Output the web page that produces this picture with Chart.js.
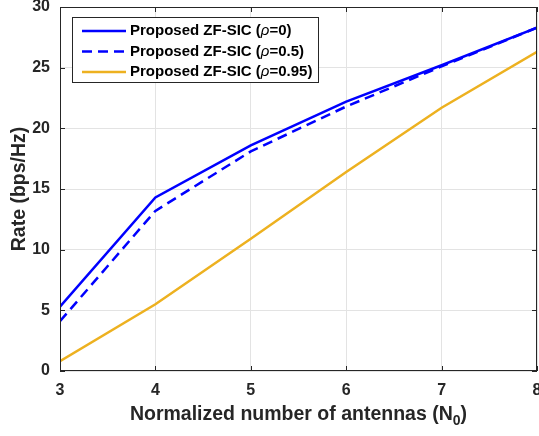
<!DOCTYPE html>
<html>
<head>
<meta charset="utf-8">
<script src="https://cdn.jsdelivr.net/npm/chart.js@4.4.0/dist/chart.umd.min.js"></script>
<style>
  body { margin: 0; background: #fff; }
  #wrap { width: 539px; height: 436px; }
</style>
</head>
<body>
<div id="wrap"><canvas id="rateChart"></canvas></div>
<script>
// values
const antennas = [3, 4, 5, 6, 7, 8];
const rateRho0 = [5.3, 14.3, 18.6, 22.2, 25.2, 28.3];
const rateRho05 = [4.1, 13.2, 18.1, 21.8, 25.1, 28.3];
const rateRho095 = [0.8, 5.5, 10.9, 16.4, 21.7, 26.3];
const rhoLabels = ["0", "0.5", "0.95"];
const xTicks = [3, 4, 5, 6, 7, 8];
const yTicks = [0, 5, 10, 15, 20, 25, 30];

const BLUE = "#0000ff";
const ORANGE = "#edb120";
const AXIS = "#262626";
const FONT = "'Liberation Sans', Arial, sans-serif";

function pts(values) {
  return antennas.map((x, i) => ({ x: x, y: values[i] }));
}

// no extra room for the outer tick labels, the plot box goes to the edge
function noOverhang(s) {
  s.paddingLeft = 0;
  s.paddingRight = 0;
  s.paddingTop = 0;
  s.paddingBottom = 0;
}

// box around the axes + inward ticks on all four sides (matlab style)
const framePlugin = {
  id: "frame",
  afterDraw(chart) {
    const { ctx, chartArea: a, scales } = chart;
    ctx.save();
    ctx.strokeStyle = AXIS;
    ctx.lineWidth = 1;
    ctx.strokeRect(a.left + 0.5, a.top + 0.5, a.right - a.left - 1, a.bottom - a.top - 1);
    ctx.beginPath();
    xTicks.forEach((t) => {
      const px = Math.round(scales.x.getPixelForValue(t)) + 0.5;
      ctx.moveTo(px, a.bottom); ctx.lineTo(px, a.bottom - 5);
      ctx.moveTo(px, a.top); ctx.lineTo(px, a.top + 5);
    });
    yTicks.forEach((t) => {
      const py = Math.round(scales.y.getPixelForValue(t)) + 0.5;
      ctx.moveTo(a.left, py); ctx.lineTo(a.left + 5, py);
      ctx.moveTo(a.right, py); ctx.lineTo(a.right - 5, py);
    });
    ctx.stroke();

    // x title with subscript
    ctx.fillStyle = AXIS;
    ctx.textBaseline = "alphabetic";
    const main = "Normalized number of antennas (N";
    const big = "bold 19.5px " + FONT;
    const small = "bold 14px " + FONT;
    ctx.font = big;
    const w1 = ctx.measureText(main).width;
    const w3 = ctx.measureText(")").width;
    ctx.font = small;
    const w2 = ctx.measureText("0").width;
    let x0 = (a.left + a.right) / 2 - (w1 + w2 + w3) / 2;
    const yb = 420;
    ctx.font = big;
    ctx.fillText(main, x0, yb);
    ctx.font = small;
    ctx.fillText("0", x0 + w1, yb + 5);
    ctx.font = big;
    ctx.fillText(")", x0 + w1 + w2, yb);
    ctx.restore();
  }
};

// legend box in the upper left corner
const legendPlugin = {
  id: "boxLegend",
  afterDatasetsDraw(chart) {
    const { ctx } = chart;
    const bx = 72, by = 17, bw = 246, bh = 65;
    ctx.save();
    ctx.fillStyle = "#fff";
    ctx.fillRect(bx, by, bw, bh);
    ctx.strokeStyle = AXIS;
    ctx.lineWidth = 1;
    ctx.strokeRect(bx + 0.5, by + 0.5, bw, bh);
    chart.data.datasets.forEach((ds, i) => {
      const cy = 31 + i * 20.5;
      ctx.strokeStyle = ds.borderColor;
      ctx.lineWidth = ds.borderWidth;
      ctx.setLineDash(ds.borderDash || []);
      ctx.beginPath();
      ctx.moveTo(82, cy); ctx.lineTo(126, cy);
      ctx.stroke();
      ctx.setLineDash([]);
      ctx.fillStyle = "#000";
      ctx.textBaseline = "middle";
      let tx = 130;
      ctx.font = "bold 15px " + FONT;
      ctx.fillText("Proposed ZF-SIC (", tx, cy);
      tx += ctx.measureText("Proposed ZF-SIC (").width;
      ctx.font = "italic 15px " + FONT;
      ctx.fillText("\u03c1", tx, cy);
      tx += ctx.measureText("\u03c1").width;
      ctx.font = "bold 15px " + FONT;
      ctx.fillText("=" + rhoLabels[i] + ")", tx, cy);
    });
    ctx.restore();
  }
};

new Chart(document.getElementById("rateChart"), {
  type: "line",
  data: {
    datasets: [
      { label: "rho=0", data: pts(rateRho0), borderColor: BLUE, borderWidth: 2.5, pointRadius: 0, tension: 0 },
      { label: "rho=0.5", data: pts(rateRho05), borderColor: BLUE, borderWidth: 2.5, borderDash: [10, 6], pointRadius: 0, tension: 0 },
      { label: "rho=0.95", data: pts(rateRho095), borderColor: ORANGE, borderWidth: 2.5, pointRadius: 0, tension: 0 },
    ],
  },
  options: {
    responsive: true,
    maintainAspectRatio: false,
    animation: false,
    layout: { padding: { top: 7, right: 2, left: 0, bottom: 0 } },
    plugins: { legend: { display: false }, tooltip: { enabled: false } },
    scales: {
      x: {
        type: "linear",
        min: 3,
        max: 8,
        afterBuildTicks: (s) => { s.ticks = xTicks.map((v) => ({ value: v })); },
        afterFit: (s) => { s.height = 65; noOverhang(s); },
        grid: { color: "#e3e3e3", drawTicks: false },
        border: { display: false },
        ticks: { color: AXIS, font: { family: FONT, size: 16, weight: "bold" }, padding: 10, maxRotation: 0 },
      },
      y: {
        min: 0,
        max: 30,
        afterBuildTicks: (s) => { s.ticks = yTicks.map((v) => ({ value: v })); },
        afterFit: (s) => { s.width = 60; noOverhang(s); },
        grid: { color: "#e3e3e3", drawTicks: false },
        border: { display: false },
        title: { display: true, text: "Rate (bps/Hz)", color: AXIS, font: { family: FONT, size: 19.5, weight: "bold" }, padding: { top: 8, bottom: 0 } },
        ticks: { color: AXIS, font: { family: FONT, size: 16, weight: "bold" }, padding: 10 },
      },
    },
  },
  plugins: [framePlugin, legendPlugin],
});
</script>
</body>
</html>
